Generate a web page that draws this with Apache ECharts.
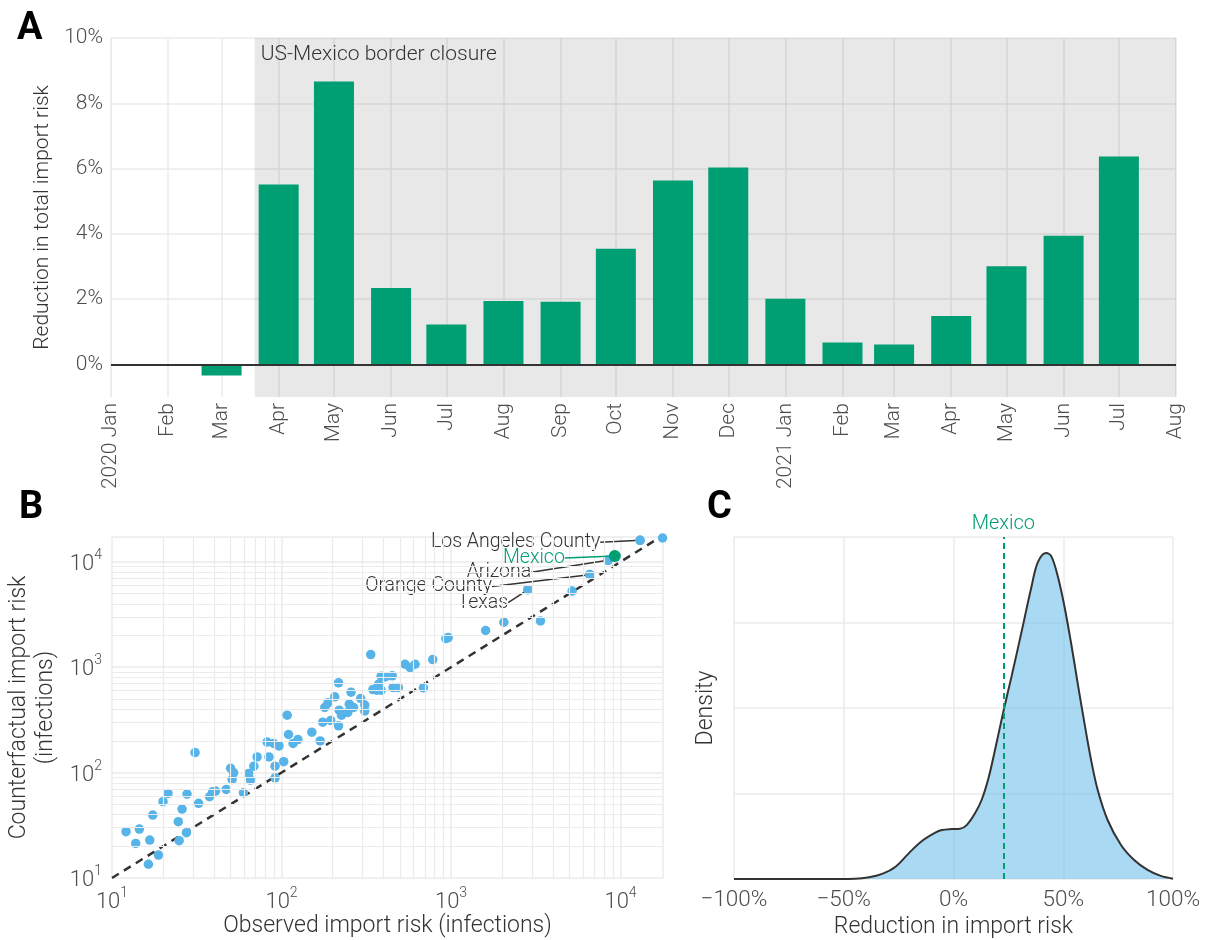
<!DOCTYPE html>
<html><head><meta charset="utf-8">
<script src="https://cdn.jsdelivr.net/npm/echarts@6/dist/echarts.min.js"></script>
<style>html,body{margin:0;padding:0;background:#fff}#c{width:1210px;height:940px}</style>
</head><body><div id="c"></div>
<script>
// ---------- Panel A data ----------
const months = ['2020-01-01','2020-02-01','2020-03-01','2020-04-01','2020-05-01','2020-06-01','2020-07-01','2020-08-01','2020-09-01','2020-10-01','2020-11-01','2020-12-01','2021-01-01','2021-02-01','2021-03-01','2021-04-01','2021-05-01','2021-06-01','2021-07-01'];
const reduction = [null,null,-0.34,5.51,8.67,2.34,1.22,1.94,1.92,3.54,5.63,6.03,2.01,0.67,0.61,1.48,3.01,3.94,6.37];
const closureStart = '2020-03-19';
const closureEnd = '2021-08-01';
const yTicksA = [0,2,4,6,8,10];
const monthNames = ['Jan','Feb','Mar','Apr','May','Jun','Jul','Aug','Sep','Oct','Nov','Dec'];

// ---------- Panel B data ----------
const obsRisk = [12.1,13.8,14.5,16.7,16.4,17.4,18.8,20.0,21.4,24.6,24.9,25.9,27.5,27.7,30.9,32.4,37.6,39.2,40.8,47.2,50.1,51.1,52.2,59.6,64.0,65.6,68.7,71.8,82.2,84.3,89.9,91.6,91.6,96.6,103,108,110,117,125,151,169,175,180,188,195,206,217,217,219,226,246,251,257,266,293,310,310,336,346,365,374,387,387,408,450,455,489,535,574,614,687,780,933,962,1600,2050,3370,2840,5180,6580,8430,13030,17700];
const cfRisk  = [27.5,21.3,29.1,22.9,13.5,39.5,16.5,53.0,63.5,34.2,22.6,45.1,26.9,62.5,155,51.1,59.0,65.8,66.8,69.2,110,86.1,99.5,64.4,98.2,84.9,115,141,195,141,189,115,89.3,179,127,351,230,189,206,242,200,301,415,459,313,524,711,278,391,351,372,446,579,415,505,437,385,1318,614,605,690,605,822,809,828,641,641,1067,993,1067,637,1183,1871,1910,2230,2670,2750,5445,5280,7570,10330,16000,16830];
const labeledNames = ['Los Angeles County','Arizona','Orange County','Texas'];
const labeledObs = [13030,8430,6580,2840];
const labeledCf  = [16000,10330,7570,5445];
const mexicoObs = 9250, mexicoCf = 11350;
const logMin = 10, xLogMax = 17800, yLogMax = 17200;
const minorGrid = [20,30,40,50,60,70,80,90,200,300,400,500,600,700,800,900,2000,3000,4000,5000,6000,7000,8000,9000];

// ---------- Panel C data ----------
const densX = [-100,-60,-45,-38.5,-32.5,-26.4,-20.4,-14.4,-8.3,-5.3,-0.8,3.0,6.0,9.8,12.8,15.9,18.9,22.7,26.4,31.0,35.5,38.5,42.3,44.6,47.6,50.6,53.6,56.6,59.7,62.7,65.7,70.2,76.3,82.3,88.4,94.4,100];
const densY = [0,0,0.002,0.01,0.03,0.072,0.15,0.222,0.271,0.286,0.292,0.294,0.315,0.384,0.462,0.588,0.754,0.978,1.182,1.445,1.708,1.854,1.906,1.887,1.766,1.591,1.377,1.143,0.909,0.695,0.52,0.345,0.199,0.111,0.053,0.018,0.002];
const mexicoReduction = 22.7;

const F = 'Roboto';
const TXT = '#4d4d4d', TITLE = '#333';
const GRIDC = '#ebebeb';
const BLUE = '#56B4E9', GREEN = '#009E73';
const BAR_W = 40;

const chart = echarts.init(document.getElementById('c'), null, {renderer:'canvas'});

function sup(v){
  const e = Math.round(Math.log10(v));
  return '{b|10}{s|' + e + '}';
}
const supRich = {
  b:{fontFamily:F,fontWeight:300,fontSize:22,color:TXT,verticalAlign:'bottom',lineHeight:27},
  s:{fontFamily:F,fontWeight:300,fontSize:14,color:TXT,verticalAlign:'top',lineHeight:27}
};
const labelShifts = [{dx:-31,dy:2},{dx:-68,dy:12},{dx:-89,dy:12},{dx:-11,dy:13}];
const noBorder = {textBorderWidth:0,textBorderColor:'transparent'};

const option = {
  backgroundColor:'#fff',
  animation:false,
  textStyle:{fontFamily:F},
  graphic:[
    {type:'text',left:17,top:10,style:{text:'A',font:'bold 38px Roboto',fill:'#000'}},
    {type:'text',left:19,top:489,style:{text:'B',font:'bold 38px Roboto',fill:'#000'}},
    {type:'text',left:707,top:489,style:{text:'C',font:'bold 38px Roboto',fill:'#000'}}
  ],
  grid:[
    {left:111,top:38,right:34,bottom:543},
    {left:112,top:537,right:547,bottom:62},
    {left:734,top:537,right:37,bottom:61}
  ],
  xAxis:[
    {gridIndex:0,type:'time',min:'2020-01-01',max:'2021-08-01',
     minInterval:28*864e5,maxInterval:31*864e5,
     axisLine:{show:false},axisTick:{show:false},
     splitLine:{show:true,lineStyle:{color:GRIDC,width:1.5}},
     axisLabel:{rotate:90,fontFamily:F,fontWeight:300,fontSize:21,color:TXT,margin:6,hideOverlap:false,
       showMinLabel:true,showMaxLabel:true,
       formatter:function(v){const d=new Date(v);const m=d.getMonth();return m===0?(d.getFullYear()+' Jan'):monthNames[m];}}},
    {gridIndex:1,type:'log',logBase:10,min:logMin,max:xLogMax,
     axisLine:{show:false},axisTick:{show:false},
     splitLine:{show:true,lineStyle:{color:GRIDC,width:1.5}},
     axisLabel:{formatter:sup,rich:supRich,margin:8,showMaxLabel:false},
     name:'Observed import risk (infections)',nameLocation:'middle',nameGap:37,
     nameTextStyle:{fontFamily:F,fontWeight:300,fontSize:23,color:TITLE}},
    {gridIndex:2,type:'value',min:-100,max:100,interval:50,
     axisLine:{show:false},axisTick:{show:false},
     splitLine:{show:true,lineStyle:{color:GRIDC,width:1.5}},
     axisLabel:{fontFamily:F,fontWeight:300,fontSize:22.5,color:TXT,margin:10,
       formatter:function(v){return (v<0?'\u2212'+Math.abs(v):v)+'%';}},
     name:'Reduction in import risk',nameLocation:'middle',nameGap:37,
     nameTextStyle:{fontFamily:F,fontWeight:300,fontSize:23,color:TITLE}}
  ],
  yAxis:[
    {gridIndex:0,type:'value',min:-1,max:10,
     axisLine:{show:false},
     axisTick:{show:false,customValues:yTicksA},
     splitLine:{show:true,lineStyle:{color:GRIDC,width:1.5}},
     axisLabel:{customValues:yTicksA,formatter:'{value}%',fontFamily:F,fontWeight:300,fontSize:21,color:TXT,margin:8},
     name:'Reduction in total import risk',nameLocation:'middle',nameGap:55,nameRotate:90,
     nameTextStyle:{fontFamily:F,fontWeight:300,fontSize:21,color:TITLE}},
    {gridIndex:1,type:'log',logBase:10,min:logMin,max:yLogMax,
     axisLine:{show:false},axisTick:{show:false},
     splitLine:{show:true,lineStyle:{color:GRIDC,width:1.5}},
     axisLabel:{formatter:sup,rich:supRich,margin:10,showMaxLabel:false},
     name:'Counterfactual import risk\n(infections)',nameLocation:'middle',nameGap:52,nameRotate:90,
     nameTextStyle:{fontFamily:F,fontWeight:300,fontSize:23,color:TITLE,lineHeight:27,align:'center'}},
    {gridIndex:2,type:'value',min:0,max:2,interval:0.5,
     axisLine:{show:false},axisTick:{show:false},axisLabel:{show:false},
     splitLine:{show:true,lineStyle:{color:GRIDC,width:1.5}},
     name:'Density',nameLocation:'middle',nameGap:16,nameRotate:90,
     nameTextStyle:{fontFamily:F,fontWeight:300,fontSize:23,color:TITLE}}
  ],
  series:[
    {type:'line',xAxisIndex:0,yAxisIndex:0,data:[],z:1,silent:true,
     markArea:{silent:true,itemStyle:{color:'rgba(0,0,0,0.09)'},
       label:{show:true,position:'insideTopLeft',distance:6,fontFamily:F,fontWeight:300,fontSize:21,color:TITLE},
       data:[[{name:'US-Mexico border closure',xAxis:closureStart,yAxis:10},{xAxis:closureEnd,yAxis:-1}]]}},
    {type:'custom',xAxisIndex:0,yAxisIndex:0,z:3,
     data:months.map((m,i)=>[m,reduction[i]]).filter(d=>d[1]!==null),
     encode:{x:0,y:1},
     renderItem:function(params,api){
       const t = api.value(0), v = api.value(1);
       const p0 = api.coord([t,0]), p1 = api.coord([t,v]);
       return {type:'rect',shape:{x:p0[0]-BAR_W/2,y:Math.min(p0[1],p1[1]),width:BAR_W,height:Math.abs(p1[1]-p0[1])},
         style:{fill:GREEN}};
     },
     markLine:{silent:true,symbol:'none',label:{show:false},z:10,
       lineStyle:{color:'#333',width:2,type:'solid'},data:[{yAxis:0}]}},
    {type:'line',xAxisIndex:1,yAxisIndex:1,data:[],z:0,silent:true,
     markLine:{silent:true,symbol:'none',label:{show:false},
       lineStyle:{color:GRIDC,width:1.2,type:'solid'},
       data:minorGrid.map(v=>({xAxis:v})).concat(minorGrid.map(v=>({yAxis:v})))}},
    {type:'line',xAxisIndex:1,yAxisIndex:1,z:2,silent:true,showSymbol:false,symbol:'none',clip:true,
     data:[[logMin,logMin],[xLogMax,xLogMax]],
     lineStyle:{color:'#333',width:2.5,type:[8,6]}},
    {type:'scatter',xAxisIndex:1,yAxisIndex:1,z:3,symbolSize:9.5,
     data:obsRisk.map((x,i)=>[x,cfRisk[i]]),
     itemStyle:{color:BLUE,opacity:1}},
    {type:'scatter',xAxisIndex:1,yAxisIndex:1,z:4,symbolSize:9.5,
     data:labeledObs.map((x,i)=>({name:labeledNames[i],value:[x,labeledCf[i]]})),
     itemStyle:{color:BLUE,opacity:1},
     label:Object.assign({show:true,position:'left',distance:4,formatter:'{b}',fontFamily:F,fontWeight:300,fontSize:19.5,color:TITLE},noBorder),
     labelLine:{show:true,lineStyle:{color:'#333',width:1.5}},
     labelLayout:function(p){return labelShifts[p.dataIndex];}},
    {type:'scatter',xAxisIndex:1,yAxisIndex:1,z:5,symbolSize:12,
     data:[{name:'Mexico',value:[mexicoObs,mexicoCf]}],
     itemStyle:{color:GREEN,opacity:1},
     label:Object.assign({show:true,position:'left',distance:4,formatter:'{b}',fontFamily:F,fontWeight:300,fontSize:19.5,color:GREEN},noBorder),
     labelLine:{show:true,lineStyle:{color:GREEN,width:1.5}},
     labelLayout:{dx:-40,dy:2}},
    {type:'line',xAxisIndex:2,yAxisIndex:2,z:3,smooth:0.35,showSymbol:false,symbol:'none',
     data:densX.map((x,i)=>[x,densY[i]]),
     lineStyle:{color:'#333',width:2},
     areaStyle:{color:BLUE,opacity:0.5},
     markLine:{silent:true,symbol:'none',
       lineStyle:{color:GREEN,width:2,type:[6,4]},
       label:{show:true,position:'end',formatter:'Mexico',fontFamily:F,fontWeight:300,fontSize:20,color:GREEN,distance:3},
       data:[{xAxis:mexicoReduction}]}}
  ]
};
chart.setOption(option);
</script></body></html>
